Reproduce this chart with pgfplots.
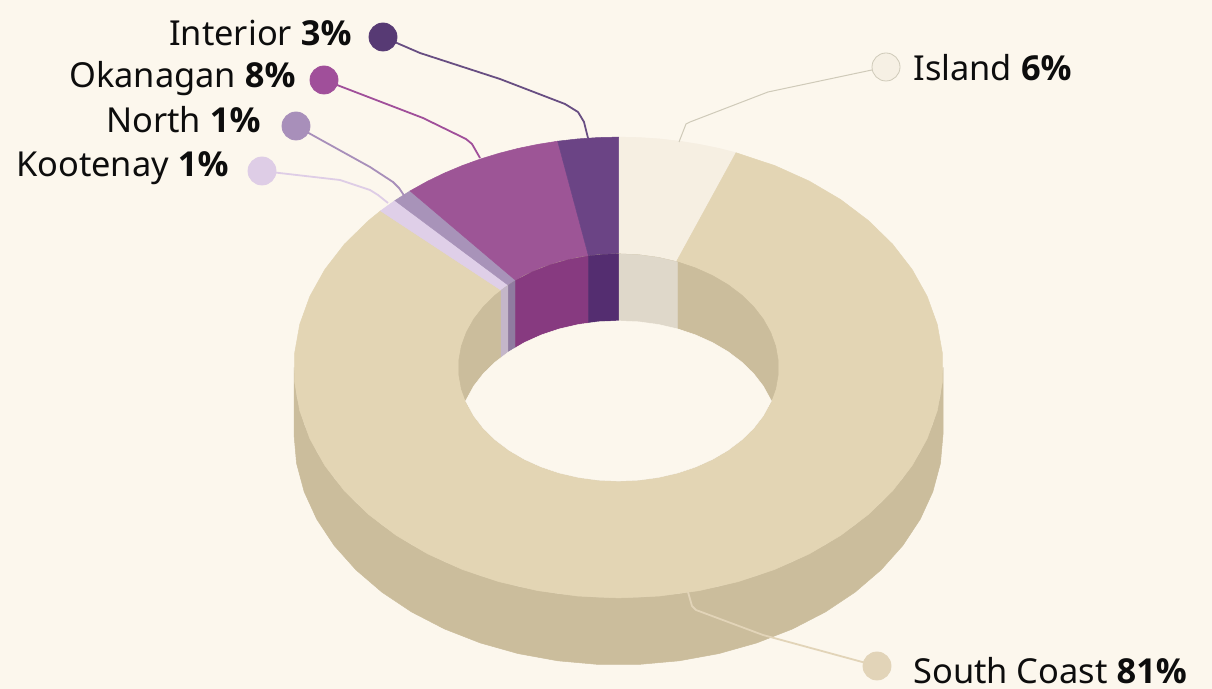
\documentclass[border=0pt]{standalone}
\usepackage{fontspec}
\setmainfont{Noto Sans}[BoldFont={Open Sans Bold}]
\newfontfamily\numfont{Open Sans}[UprightFont={* Bold}]
\usepackage{pgfplots}
\usepackage{pgfplotstable}
\pgfplotsset{compat=1.18}
\definecolor{bg}{HTML}{FCF7ED}
\definecolor{southtop}{HTML}{E3D5B4}
\definecolor{wallc}{HTML}{CBBD9C}
\definecolor{islandtop}{HTML}{F6EFE2}
\definecolor{islandwall}{HTML}{DFD8CA}
\definecolor{kootop}{HTML}{DFCFE8}
\definecolor{koowall}{HTML}{C4B6C9}
\definecolor{northtop}{HTML}{A893B9}
\definecolor{northwall}{HTML}{8F7BA0}
\definecolor{okatop}{HTML}{9D5596}
\definecolor{okawall}{HTML}{873A80}
\definecolor{inttop}{HTML}{6B4485}
\definecolor{intwall}{HTML}{542D70}
\definecolor{intdot}{HTML}{573A74}
\definecolor{okadot}{HTML}{A04F9A}
\definecolor{northdot}{HTML}{A88FBA}
\definecolor{koodot}{HTML}{DECDE6}
\definecolor{isldot}{HTML}{F6F0E4}
\definecolor{islline}{HTML}{CFCAB9}
\definecolor{southdot}{HTML}{E2D4B8}
% rows: share of the ring (percent, clockwise from the top), radius, drop
\pgfplotstableread[row sep=\\]{pct r z\\
25 324.5 0\\27 324.5 0\\29 324.5 0\\31 324.5 0\\33 324.5 0\\35 324.5 0\\37 324.5 0\\39 324.5 0\\41 324.5 0\\43 324.5 0\\45 324.5 0\\47 324.5 0\\49 324.5 0\\51 324.5 0\\53 324.5 0\\55 324.5 0\\57 324.5 0\\59 324.5 0\\61 324.5 0\\63 324.5 0\\65 324.5 0\\67 324.5 0\\69 324.5 0\\71 324.5 0\\73 324.5 0\\75 324.5 0\\
75 324.5 67\\73 324.5 67\\71 324.5 67\\69 324.5 67\\67 324.5 67\\65 324.5 67\\63 324.5 67\\61 324.5 67\\59 324.5 67\\57 324.5 67\\55 324.5 67\\53 324.5 67\\51 324.5 67\\49 324.5 67\\47 324.5 67\\45 324.5 67\\43 324.5 67\\41 324.5 67\\39 324.5 67\\37 324.5 67\\35 324.5 67\\33 324.5 67\\31 324.5 67\\29 324.5 67\\27 324.5 67\\25 324.5 67\\
}\outerwall
\pgfplotstableread[row sep=\\]{pct r z\\
0 0 0\\0 324.5 0\\1 324.5 0\\2 324.5 0\\3 324.5 0\\4 324.5 0\\5 324.5 0\\5.9 324.5 0\\
}\islandpie
\pgfplotstableread[row sep=\\]{pct r z\\
0 0 0\\5.9 324.5 0\\8 324.5 0\\10 324.5 0\\12 324.5 0\\14 324.5 0\\16 324.5 0\\18 324.5 0\\20 324.5 0\\22 324.5 0\\24 324.5 0\\26 324.5 0\\28 324.5 0\\30 324.5 0\\32 324.5 0\\34 324.5 0\\36 324.5 0\\38 324.5 0\\40 324.5 0\\42 324.5 0\\44 324.5 0\\46 324.5 0\\48 324.5 0\\50 324.5 0\\52 324.5 0\\54 324.5 0\\56 324.5 0\\58 324.5 0\\60 324.5 0\\62 324.5 0\\64 324.5 0\\66 324.5 0\\68 324.5 0\\70 324.5 0\\72 324.5 0\\74 324.5 0\\76 324.5 0\\78 324.5 0\\80 324.5 0\\82 324.5 0\\84 324.5 0\\86 324.5 0\\86.9 324.5 0\\
}\southpie
\pgfplotstableread[row sep=\\]{pct r z\\
0 0 0\\86.9 324.5 0\\87.9 324.5 0\\
}\koopie
\pgfplotstableread[row sep=\\]{pct r z\\
0 0 0\\87.9 324.5 0\\88.9 324.5 0\\
}\northpie
\pgfplotstableread[row sep=\\]{pct r z\\
0 0 0\\88.9 324.5 0\\90 324.5 0\\91 324.5 0\\92 324.5 0\\93 324.5 0\\94 324.5 0\\95 324.5 0\\96 324.5 0\\97 324.5 0\\
}\okapie
\pgfplotstableread[row sep=\\]{pct r z\\
0 0 0\\97 324.5 0\\98 324.5 0\\99 324.5 0\\100 324.5 0\\
}\intpie
\pgfplotstableread[row sep=\\]{pct r z\\
0 160 0\\2 160 0\\4 160 0\\6 160 0\\8 160 0\\10 160 0\\12 160 0\\14 160 0\\16 160 0\\18 160 0\\20 160 0\\22 160 0\\24 160 0\\26 160 0\\28 160 0\\30 160 0\\32 160 0\\34 160 0\\36 160 0\\38 160 0\\40 160 0\\42 160 0\\44 160 0\\46 160 0\\48 160 0\\50 160 0\\52 160 0\\54 160 0\\56 160 0\\58 160 0\\60 160 0\\62 160 0\\64 160 0\\66 160 0\\68 160 0\\70 160 0\\72 160 0\\74 160 0\\76 160 0\\78 160 0\\80 160 0\\82 160 0\\84 160 0\\86 160 0\\88 160 0\\90 160 0\\92 160 0\\94 160 0\\96 160 0\\98 160 0\\
}\innerfloor
\pgfplotstableread[row sep=\\]{pct r z\\
0 160 0\\2 160 0\\4 160 0\\6 160 0\\6 160 67\\4 160 67\\2 160 67\\0 160 67\\
}\islandwallT
\pgfplotstableread[row sep=\\]{pct r z\\
86.9 160 0\\87.9 160 0\\87.9 160 67\\86.9 160 67\\
}\koowallT
\pgfplotstableread[row sep=\\]{pct r z\\
87.9 160 0\\88.9 160 0\\88.9 160 67\\87.9 160 67\\
}\northwallT
\pgfplotstableread[row sep=\\]{pct r z\\
88.9 160 0\\91 160 0\\93 160 0\\95 160 0\\97 160 0\\97 160 67\\95 160 67\\93 160 67\\91 160 67\\88.9 160 67\\
}\okawallT
\pgfplotstableread[row sep=\\]{pct r z\\
97 160 0\\98.5 160 0\\100 160 0\\100 160 67\\98.5 160 67\\97 160 67\\
}\intwallT
\pgfplotstableread[row sep=\\]{pct r z\\
29.8 160 0\\32 160 0\\34 160 0\\36 160 0\\38 160 0\\40 160 0\\42 160 0\\44 160 0\\46 160 0\\48 160 0\\50 160 0\\52 160 0\\54 160 0\\56 160 0\\58 160 0\\60 160 0\\62 160 0\\64 160 0\\66 160 0\\68 160 0\\70.2 160 0\\
79.8 160 67\\82 160 67\\84 160 67\\86 160 67\\88 160 67\\90 160 67\\92 160 67\\94 160 67\\96 160 67\\98 160 67\\100 160 67\\102 160 67\\104 160 67\\106 160 67\\108 160 67\\110 160 67\\112 160 67\\114 160 67\\116 160 67\\118 160 67\\120.2 160 67\\
}\hole
\newcommand\poly[2]{\addplot[fill=#1,draw=#1,line width=0.25pt,mark=none,forget plot]
  table[x expr={618.5+\thisrow{r}*sin(3.6*\thisrow{pct})},
        y expr={367.5-0.71*\thisrow{r}*cos(3.6*\thisrow{pct})+\thisrow{z}}]{#2} -- cycle;}
\newcommand\dotat[3]{\addplot[only marks,mark=*,mark size=7pt,mark options={fill=#1,draw=#2,line width=0.4pt},forget plot] coordinates {#3};}
\newcommand\lead[3]{\addplot[color=#1,line width=#2,mark=none,forget plot,line join=round] coordinates {#3};}
\begin{document}
\begin{tikzpicture}
\begin{axis}[hide axis,scale only axis,width=606pt,height=344.5pt,
  xmin=0,xmax=1212,ymin=0,ymax=689,y dir=reverse,enlargelimits=false,clip=true,
  nodes={font=\fontsize{17.2}{20}\selectfont,text=black!95,inner sep=0pt}]
\addplot[fill=bg,draw=none,mark=none,forget plot] coordinates {(0,0)(1212,0)(1212,689)(0,689)} -- cycle;
\poly{wallc}{\outerwall}
\poly{islandtop}{\islandpie}
\poly{southtop}{\southpie}
\poly{kootop}{\koopie}
\poly{northtop}{\northpie}
\poly{okatop}{\okapie}
\poly{inttop}{\intpie}
\poly{wallc}{\innerfloor}
\poly{islandwall}{\islandwallT}
\poly{koowall}{\koowallT}
\poly{northwall}{\northwallT}
\poly{okawall}{\okawallT}
\poly{intwall}{\intwallT}
\poly{bg}{\hole}
% leader lines
\lead{intdot!90}{0.9pt}{(383,37)(420,53)(500,79)(565,104)(578,112)(584,122)(588,138)}
\lead{okadot}{0.9pt}{(324,80)(423,118)(466,139)(472,144)(480,158)}
\lead{northdot}{0.9pt}{(296,126)(370,167)(393,182)(399,188)(405,197)}
\lead{koodot}{0.9pt}{(262,171)(340,180)(370,190)(378,195)(388,203)}
\lead{islline}{0.5pt}{(886,67)(768,92)(690,122)(686,124)(679,142)}
\lead{southdot}{0.9pt}{(877,666)(763,635)(696,610)(692,606)(688,592)}
\dotat{intdot}{intdot}{(383,37)}
\dotat{okadot}{okadot}{(324,80)}
\dotat{northdot}{northdot}{(296,126)}
\dotat{koodot}{koodot}{(262,171)}
\dotat{isldot}{islline}{(886,67)}
\dotat{southdot}{southdot}{(877,666)}
\node[anchor=base east] at (axis cs:352,46) {Interior \textbf{3\%}};
\node[anchor=base east] at (axis cs:296,88) {Okanagan \textbf{8\%}};
\node[anchor=base east] at (axis cs:261,133) {North \textbf{1\%}};
\node[anchor=base east] at (axis cs:229,177) {Kootenay \textbf{1\%}};
\node[anchor=base west] at (axis cs:913,81) {Island \textbf{6\%}};
\node[anchor=base west] at (axis cs:913,683.5) {South Coast \textbf{81\%}};
\end{axis}
\end{tikzpicture}
\end{document}
